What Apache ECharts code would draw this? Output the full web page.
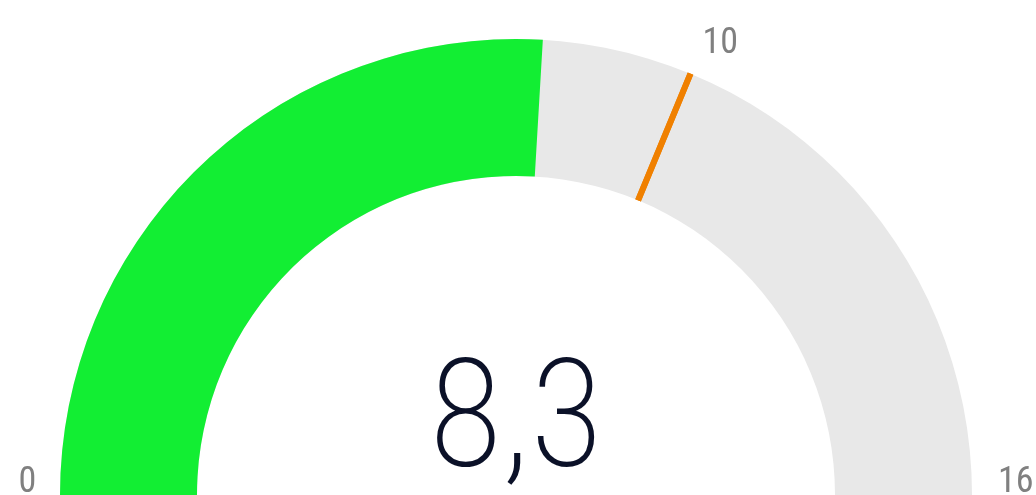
<!DOCTYPE html>
<html>
<head>
<meta charset="utf-8">
<script src="https://cdn.jsdelivr.net/npm/echarts@6/dist/echarts.min.js"></script>
<style>
html,body{margin:0;padding:0;background:#fff;}
#chart{width:1036px;height:495px;}
</style>
</head>
<body>
<div id="chart"></div>
<script>
// Data
const gaugeMin = 0;
const gaugeMax = 16;
const actualValue = [8.3];
const targetValue = [10];
const tickLabels = ['0', '16'];

const chart = echarts.init(document.getElementById('chart'), null, {renderer: 'canvas'});
const startAngle = 180, endAngle = 0;
const targetAngle = startAngle - (targetValue[0] - gaugeMin) / (gaugeMax - gaugeMin) * (startAngle - endAngle);
const R = 456, W = 137;
const labelFont = '"Roboto Condensed", Roboto, sans-serif';

const option = {
  backgroundColor: '#ffffff',
  animation: false,
  series: [
    {
      type: 'gauge',
      center: [516, 495],
      radius: R,
      startAngle: startAngle,
      endAngle: endAngle,
      min: gaugeMin,
      max: gaugeMax,
      splitNumber: 1,
      progress: { show: true, width: W, roundCap: false, itemStyle: { color: '#12ee33' } },
      axisLine: { show: true, roundCap: false, lineStyle: { width: W, color: [[1, '#e8e8e8']] } },
      axisTick: { show: false },
      splitLine: { show: false, length: 0, distance: 0 },
      pointer: { show: false },
      anchor: { show: false },
      title: { show: false },
      axisLabel: {
        show: true,
        distance: -61.5,
        align: 'center',
        verticalAlign: 'middle',
        formatter: function (v) {
          const s = String(Math.round(v));
          if (s === tickLabels[1]) return '{b|' + s + '}';
          return '{a|' + s + '}';
        },
        rich: {
          a: { fontFamily: labelFont, fontSize: 36, color: '#808080', padding: [0, 0, 25, 20] },
          b: { fontFamily: labelFont, fontSize: 36, color: '#808080', padding: [0, 0, 25, 0] }
        }
      },
      detail: {
        show: true,
        offsetCenter: [0, -67],
        fontFamily: labelFont,
        fontSize: 150,
        fontWeight: 200,
        color: '#0b1128',
        formatter: function (v) { return String(v).replace('.', ','); }
      },
      data: [{ value: actualValue[0] }]
    },
    {
      type: 'gauge',
      center: [516, 495],
      radius: R,
      startAngle: targetAngle,
      endAngle: targetAngle,
      min: targetValue[0],
      max: targetValue[0] + 1,
      splitNumber: 1,
      progress: { show: false },
      axisLine: { show: false, lineStyle: { width: 0 } },
      axisTick: { show: false },
      splitLine: { show: true, length: W, distance: 0, lineStyle: { color: '#f08000', width: 6 } },
      pointer: { show: false },
      anchor: { show: false },
      title: { show: false },
      detail: { show: false },
      axisLabel: {
        show: true,
        distance: -191.3,
        align: 'center',
        verticalAlign: 'middle',
        formatter: function (v) { return Math.round(v) === targetValue[0] ? '{c|' + targetValue[0] + '}' : ''; },
        rich: {
          c: { fontFamily: labelFont, fontSize: 36, color: '#808080', padding: [2.5, 0, 0, 18] }
        }
      },
      data: [{ value: targetValue[0] }]
    }
  ]
};
chart.setOption(option);
</script>
</body>
</html>
